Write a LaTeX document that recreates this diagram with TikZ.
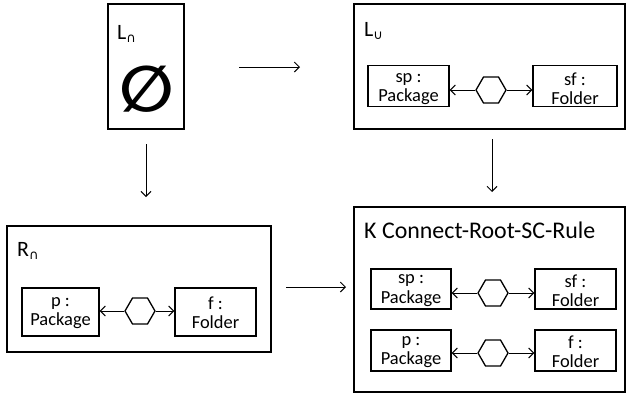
\documentclass[tikz,border=0pt]{standalone}
\usepackage{fontspec}
\setmainfont{Carlito}
\newfontfamily\dejavu{DejaVu Sans}
\usetikzlibrary{arrows.meta,shapes.geometric}
\begin{document}
\begin{tikzpicture}[x=1bp,y=-1bp,
  frame/.style={draw,line width=1.3bp,inner sep=0pt},
  obj/.style={draw,line width=1.3bp,inner sep=0pt},
  txt/.style={align=center,inner sep=0pt,font=\fontsize{18.5}{19.5}\selectfont,yshift=-3bp},
  hexa/.style={draw,regular polygon,regular polygon sides=6,minimum size=30bp,inner sep=0pt,line width=1.3bp},
  link/.style={line width=1bp,-{Straight Barb[length=5bp,width=10bp]}},
  lbl/.style={anchor=base west,inner sep=0pt,font=\fontsize{22}{26}\selectfont}]
\newcommand\subcap{\raisebox{-3bp}{\fontsize{13}{13}\selectfont\dejavu ∩}}
\newcommand\subcup{\raisebox{-3bp}{\fontsize{13}{13}\selectfont\dejavu ∪}}
\useasboundingbox (0,0) rectangle (628,394);
% frames
\node[frame,minimum width=76bp,minimum height=125bp] (lcap) at (146,66.5) {};
\node[frame,minimum width=271bp,minimum height=125bp] (lcup) at (489.5,66.5) {};
\node[frame,minimum width=264bp,minimum height=126bp] (rcap) at (139,289) {};
\node[frame,minimum width=271bp,minimum height=185bp] (kbox) at (489.5,299.5) {};
% labels
\node[lbl] (tlcap) at (117,39) {L\subcap};
\node[inner sep=0pt,font=\fontsize{64}{64}\selectfont\dejavu\bfseries] (empty) at (147,89) {∅};
\node[lbl] (tlcup) at (364,36) {L\subcup};
\node[lbl] (trcap) at (17,256) {R\subcap};
\node[lbl,font=\fontsize{24}{28}\selectfont] (tk) at (364,238) {K Connect-Root-SC-Rule};
% L cup content
\node[obj,minimum width=81bp,minimum height=41bp,label={[txt]center:{sp :\\Package}}] (sp1) at (408.5,86) {};
\node[hexa] (h1) at (491,90) {};
\node[obj,minimum width=84bp,minimum height=41bp,label={[txt]center:{sf :\\Folder}}] (sf1) at (575,86) {};
\draw[link] (h1.west) -- (h1.west -| sp1.east);
\draw[link] (h1.east) -- (h1.east -| sf1.west);
% R cap content
\node[obj,minimum width=77bp,minimum height=48bp,label={[txt,yshift=2bp]center:{p :\\Package}}] (p2) at (60.5,312) {};
\node[hexa] (h2) at (140,311) {};
\node[obj,minimum width=81bp,minimum height=48bp,label={[txt,yshift=2bp]center:{f :\\Folder}}] (f2) at (215.5,312) {};
\draw[link] (h2.west) -- (h2.west -| p2.east);
\draw[link] (h2.east) -- (h2.east -| f2.west);
% K content
\node[obj,minimum width=80bp,minimum height=40bp,label={[txt,yshift=1.5bp]center:{sp :\\Package}}] (sp3) at (411,289) {};
\node[hexa] (h3) at (493,293) {};
\node[obj,minimum width=81bp,minimum height=40bp,label={[txt,yshift=1.5bp]center:{sf :\\Folder}}] (sf3) at (575.5,289) {};
\draw[link] (h3.west) -- (h3.west -| sp3.east);
\draw[link] (h3.east) -- (h3.east -| sf3.west);
\node[obj,minimum width=80bp,minimum height=41bp,label={[txt,yshift=1.5bp]center:{p :\\Package}}] (p4) at (411,350.5) {};
\node[hexa] (h4) at (493,353) {};
\node[obj,minimum width=81bp,minimum height=41bp,label={[txt,yshift=1.5bp]center:{f :\\Folder}}] (f4) at (575.5,350.5) {};
\draw[link] (h4.west) -- (h4.west -| p4.east);
\draw[link] (h4.east) -- (h4.east -| f4.west);
% main arrows
\coordinate (a1s) at (239,67);
\coordinate (a1e) at (300,67);
\coordinate (a2s) at (146,144);
\coordinate (a2e) at (146,197);
\coordinate (a3s) at (492,139);
\coordinate (a3e) at (492,192);
\coordinate (a4s) at (286,287);
\coordinate (a4e) at (346,287);
\draw[link] (a1s) -- (a1e);
\draw[link] (a2s) -- (a2e);
\draw[link] (a3s) -- (a3e);
\draw[link] (a4s) -- (a4e);
\end{tikzpicture}
\end{document}
